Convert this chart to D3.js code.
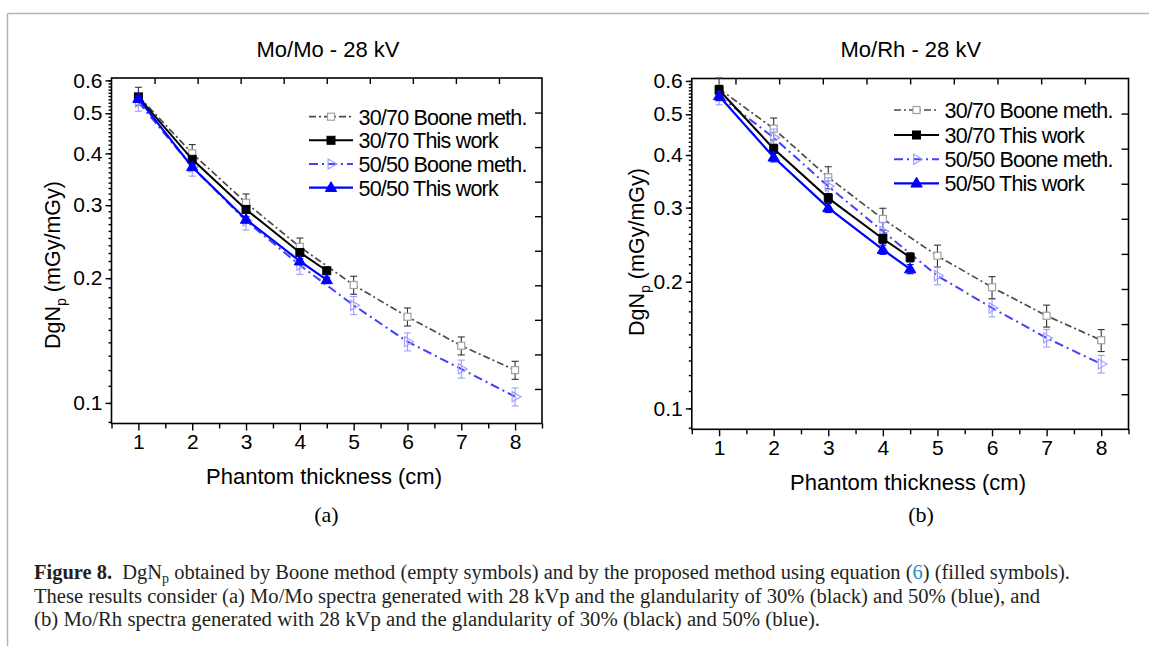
<!DOCTYPE html>
<html>
<head>
<meta charset="utf-8">
<script src="https://cdn.jsdelivr.net/npm/d3@7"></script>
<style>
  body { margin: 0; background: #fff; }
  .axis text { font-family: "Liberation Sans", Arial, sans-serif; font-size: 21px; fill: #000; }
  .axis line { stroke: #000; stroke-width: 1.4; }
  .axis path { display: none; }
</style>
</head>
<body>
<div id="fig"></div>
<script>
// phantom thickness (cm)
var thickBoone = [1, 2, 3, 4, 5, 6, 7, 8];
var thickWork = [1, 2, 3, 4, 4.5];

// axis ticks
var xTicks = [1, 2, 3, 4, 5, 6, 7, 8];
var xMinorTicks = [0.5, 1.5, 2.5, 3.5, 4.5, 5.5, 6.5, 7.5, 8.5];
var yTicks = [0.1, 0.2, 0.3, 0.4, 0.5, 0.6];
var yMinorTicks = d3.range(9, 61).map(function(d) { return d / 100; });
var frameTicks = [1, 2, 3, 4, 5, 6, 7, 8, 9]; // top / right axes, 10 divisions, no labels

// Mo/Mo - 28 kV, DgNp (mGy/mGy)
var momoBoone3070 = [0.55, 0.40, 0.304, 0.238, 0.1925, 0.1614, 0.1374, 0.120];
var momoWork3070 = [0.547, 0.387, 0.293, 0.2307, 0.2084];
var momoBoone5050 = [0.532, 0.371, 0.275, 0.215, 0.172, 0.1405, 0.1208, 0.1035];
var momoWork5050 = [0.542, 0.371, 0.277, 0.2198, 0.198];

// Mo/Rh - 28 kV
var morhBoone3070 = [0.575, 0.462, 0.354, 0.282, 0.2305, 0.194, 0.166, 0.1452];
var morhWork3070 = [0.571, 0.414, 0.316, 0.253, 0.2285];
var morhBoone5050 = [0.553, 0.44, 0.337, 0.2635, 0.2066, 0.1733, 0.147, 0.1275];
var morhWork5050 = [0.5525, 0.395, 0.2995, 0.2383, 0.2143];

// relative error bars (fraction of value)
var momoErr = { boone3070: 0.05, boone5050: 0.05, work3070: 0.015, work5050: 0.015 };
var morhErr = { boone3070: 0.06, boone5050: 0.048, work3070: 0.025, work5050: 0.025 };

var legendLabels = ["30/70 Boone meth.", "30/70 This work", "50/50 Boone meth.", "50/50 This work"];

var svgWidth = 1149;
var svgHeight = 646;
var sans = '"Liberation Sans", Arial, sans-serif';
var serif = '"Liberation Serif", "Times New Roman", serif';

var svg = d3.select("#fig").append("svg")
    .attr("width", svgWidth)
    .attr("height", svgHeight);

// page border (gray)
svg.append("line").attr("x1", 7.5).attr("y1", 13.5).attr("x2", svgWidth).attr("y2", 13.5)
    .attr("stroke", "#b4b4b4").attr("stroke-width", 1.5);
svg.append("line").attr("x1", 7.5).attr("y1", 13.5).attr("x2", 7.5).attr("y2", svgHeight)
    .attr("stroke", "#b4b4b4").attr("stroke-width", 1.5);

function drawMarker(g, type, cx, cy, st) {
  if (type == "square") {
    g.append("rect")
        .attr("x", cx - st.size / 2).attr("y", cy - st.size / 2)
        .attr("width", st.size).attr("height", st.size)
        .attr("fill", st.fill).attr("stroke", st.stroke).attr("stroke-width", st.sw);
  } else if (type == "triUp") {
    g.append("path")
        .attr("transform", "translate(" + cx + "," + (cy + 0.5) + ")")
        .attr("d", d3.symbol().type(d3.symbolTriangle).size(st.size * st.size * 0.55)())
        .attr("fill", st.fill).attr("stroke", st.stroke).attr("stroke-width", st.sw);
  } else {
    g.append("path")
        .attr("transform", "translate(" + cx + "," + cy + ") rotate(90)")
        .attr("d", d3.symbol().type(d3.symbolTriangle).size(st.size * st.size * 0.55)())
        .attr("fill", st.fill).attr("stroke", st.stroke).attr("stroke-width", st.sw);
  }
}

function drawPanel(cfg) {
  var x = d3.scaleLinear().domain([0.5, 8.5]).range([cfg.left, cfg.right]);
  var y = d3.scaleLog().domain([0.0892, 0.608]).range([cfg.bottom, cfg.top]);
  var xFrame = d3.scaleLinear().domain([0, 10]).range([cfg.left, cfg.right]);
  var yFrame = d3.scaleLinear().domain([0, 10]).range([cfg.bottom, cfg.top]);

  var g = svg.append("g");

  // axes
  g.append("g").attr("class", "axis")
      .attr("transform", "translate(0," + cfg.bottom + ")")
      .call(d3.axisBottom(x).tickValues(xTicks).tickSize(7).tickPadding(4).tickFormat(d3.format("d")));
  g.append("g").attr("class", "axis")
      .attr("transform", "translate(0," + cfg.bottom + ")")
      .call(d3.axisBottom(x).tickValues(xMinorTicks).tickSize(5).tickFormat(""));
  g.append("g").attr("class", "axis")
      .attr("transform", "translate(" + cfg.left + ",0)")
      .call(d3.axisLeft(y).tickValues(yTicks).tickSize(6).tickPadding(3)
        .tickFormat(function(d) { return d.toFixed(1); }));
  g.append("g").attr("class", "axis")
      .attr("transform", "translate(" + cfg.left + ",0)")
      .call(d3.axisLeft(y).tickValues(yMinorTicks).tickSize(3).tickFormat(""));
  g.append("g").attr("class", "axis")
      .attr("transform", "translate(0," + cfg.top + ")")
      .call(d3.axisBottom(xFrame).tickValues(frameTicks).tickSize(6).tickFormat(""));
  g.append("g").attr("class", "axis")
      .attr("transform", "translate(" + cfg.right + ",0)")
      .call(d3.axisLeft(yFrame).tickValues(frameTicks).tickSize(7).tickFormat(""));

  g.append("rect")
      .attr("x", cfg.left).attr("y", cfg.top)
      .attr("width", cfg.right - cfg.left).attr("height", cfg.bottom - cfg.top)
      .attr("fill", "none").attr("stroke", "#000").attr("stroke-width", 1.6);

  var series = [
    { xs: thickBoone, ys: cfg.boone3070, err: cfg.err.boone3070, line: "#4a4a4a", dash: "7,3,2,3", lw: 1.7,
      marker: "square", st: { size: 7, fill: "#fff", stroke: "#a0a0a0", sw: 1.2 }, errColor: "#333" },
    { xs: thickBoone, ys: cfg.boone5050, err: cfg.err.boone5050, line: "#4040ff", dash: "9,4,2,4", lw: 2,
      marker: "triRight", st: { size: 9, fill: "none", stroke: "#a0a0ff", sw: 1.2 }, errColor: "#9c9cff" },
    { xs: thickWork, ys: cfg.work3070, err: cfg.err.work3070, line: "#000", dash: null, lw: 2,
      marker: "square", st: { size: 8, fill: "#000", stroke: "#000", sw: 1 }, errColor: "#000" },
    { xs: thickWork, ys: cfg.work5050, err: cfg.err.work5050, line: "#0000ff", dash: null, lw: 2.2,
      marker: "triUp", st: { size: 10, fill: "#0000ff", stroke: "#0000ff", sw: 1 }, errColor: "#0000ff" }
  ];

  var line = d3.line()
      .x(function(d) { return x(d[0]); })
      .y(function(d) { return y(d[1]); });

  series.forEach(function(s) {
    var pts = s.xs.map(function(v, i) { return [v, s.ys[i]]; });
    var sg = g.append("g");
    sg.append("path")
        .attr("d", line(pts))
        .attr("fill", "none")
        .attr("stroke", s.line)
        .attr("stroke-width", s.lw)
        .attr("stroke-dasharray", s.dash);
    pts.forEach(function(p) {
      var px = x(p[0]);
      var yHi = y(p[1] * (1 + s.err));
      var yLo = y(p[1] * (1 - s.err));
      sg.append("line").attr("x1", px).attr("x2", px).attr("y1", yHi).attr("y2", yLo)
          .attr("stroke", s.errColor).attr("stroke-width", 1.1);
      [yHi, yLo].forEach(function(yy) {
        sg.append("line").attr("x1", px - 3.5).attr("x2", px + 3.5).attr("y1", yy).attr("y2", yy)
            .attr("stroke", s.errColor).attr("stroke-width", 1.1);
      });
      drawMarker(sg, s.marker, px, y(p[1]), s.st);
    });
  });

  // legend
  var legendOrder = [0, 2, 1, 3];
  legendLabels.forEach(function(label, i) {
    var s = series[legendOrder[i]];
    var ly = cfg.legendY[i];
    g.append("line")
        .attr("x1", cfg.legendX0).attr("x2", cfg.legendX1)
        .attr("y1", ly).attr("y2", ly)
        .attr("stroke", s.line).attr("stroke-width", s.lw)
        .attr("stroke-dasharray", s.dash);
    drawMarker(g, s.marker, (cfg.legendX0 + cfg.legendX1) / 2, ly, s.st);
    g.append("text")
        .attr("x", cfg.legendX1 + 5.5).attr("y", ly + 7.8)
        .style("font-family", sans).style("font-size", "21.5px")
        .style("letter-spacing", "-0.8px")
        .text(label);
  });

  // titles
  g.append("text")
      .attr("x", cfg.titleX).attr("y", 57)
      .attr("text-anchor", "middle")
      .style("font-family", sans).style("font-size", "22px")
      .text(cfg.title);

  g.append("text")
      .attr("x", cfg.xTitleX).attr("y", cfg.xTitleY)
      .attr("text-anchor", "middle")
      .style("font-family", sans).style("font-size", "22px")
      .text("Phantom thickness (cm)");

  var yt = g.append("text")
      .attr("transform", "translate(" + (cfg.yTitleX + 8) + "," + cfg.yTitleY + ") rotate(-90)")
      .attr("text-anchor", "middle")
      .style("font-family", sans).style("font-size", "21.5px");
  yt.append("tspan").text("DgN");
  yt.append("tspan").attr("dy", 6).style("font-size", "14px").text("p");
  yt.append("tspan").attr("dy", -6).text(" (mGy/mGy)");

  g.append("text")
      .attr("x", cfg.tagX).attr("y", 522)
      .attr("text-anchor", "middle")
      .style("font-family", serif).style("font-size", "22px")
      .text(cfg.tag);
}

drawPanel({
  left: 111.5, right: 542, top: 78, bottom: 423.5,
  boone3070: momoBoone3070, work3070: momoWork3070,
  boone5050: momoBoone5050, work5050: momoWork5050, err: momoErr,
  title: "Mo/Mo - 28 kV", titleX: 328,
  xTitleX: 324, xTitleY: 484,
  yTitleX: 51.8, yTitleY: 265,
  legendX0: 309, legendX1: 353, legendY: [116.7, 140.3, 164, 187.7],
  tag: "(a)", tagX: 326.5
});

drawPanel({
  left: 691.8, right: 1128.5, top: 78.5, bottom: 429.3,
  boone3070: morhBoone3070, work3070: morhWork3070,
  boone5050: morhBoone5050, work5050: morhWork5050, err: morhErr,
  title: "Mo/Rh - 28 kV", titleX: 910.8,
  xTitleX: 908, xTitleY: 490,
  yTitleX: 636.2, yTitleY: 252,
  legendX0: 894, legendX1: 939, legendY: [110, 135, 159.3, 183.3],
  tag: "(b)", tagX: 921
});

// caption
var capX = 34;
var cap1 = svg.append("text")
    .attr("x", capX).attr("y", 579)
    .attr("textLength", 1036).attr("lengthAdjust", "spacingAndGlyphs")
    .style("font-family", serif).style("font-size", "20.5px").style("fill", "#231f20");
cap1.append("tspan").style("font-weight", "bold").text("Figure 8.");
cap1.append("tspan").text("\u00a0\u00a0DgN");
cap1.append("tspan").attr("dy", 4).style("font-size", "14px").text("p");
cap1.append("tspan").attr("dy", -4).text(" obtained by Boone method (empty symbols) and by the proposed method using equation (");
cap1.append("tspan").style("fill", "#2a8ad4").text("6");
cap1.append("tspan").text(") (filled symbols).");

svg.append("text")
    .attr("x", capX).attr("y", 603)
    .attr("textLength", 1006).attr("lengthAdjust", "spacingAndGlyphs")
    .style("font-family", serif).style("font-size", "20.5px").style("fill", "#231f20")
    .text("These results consider (a) Mo/Mo spectra generated with 28 kVp and the glandularity of 30% (black) and 50% (blue), and");

svg.append("text")
    .attr("x", capX).attr("y", 626)
    .attr("textLength", 786).attr("lengthAdjust", "spacingAndGlyphs")
    .style("font-family", serif).style("font-size", "20.5px").style("fill", "#231f20")
    .text("(b) Mo/Rh spectra generated with 28 kVp and the glandularity of 30% (black) and 50% (blue).");
</script>
</body>
</html>
